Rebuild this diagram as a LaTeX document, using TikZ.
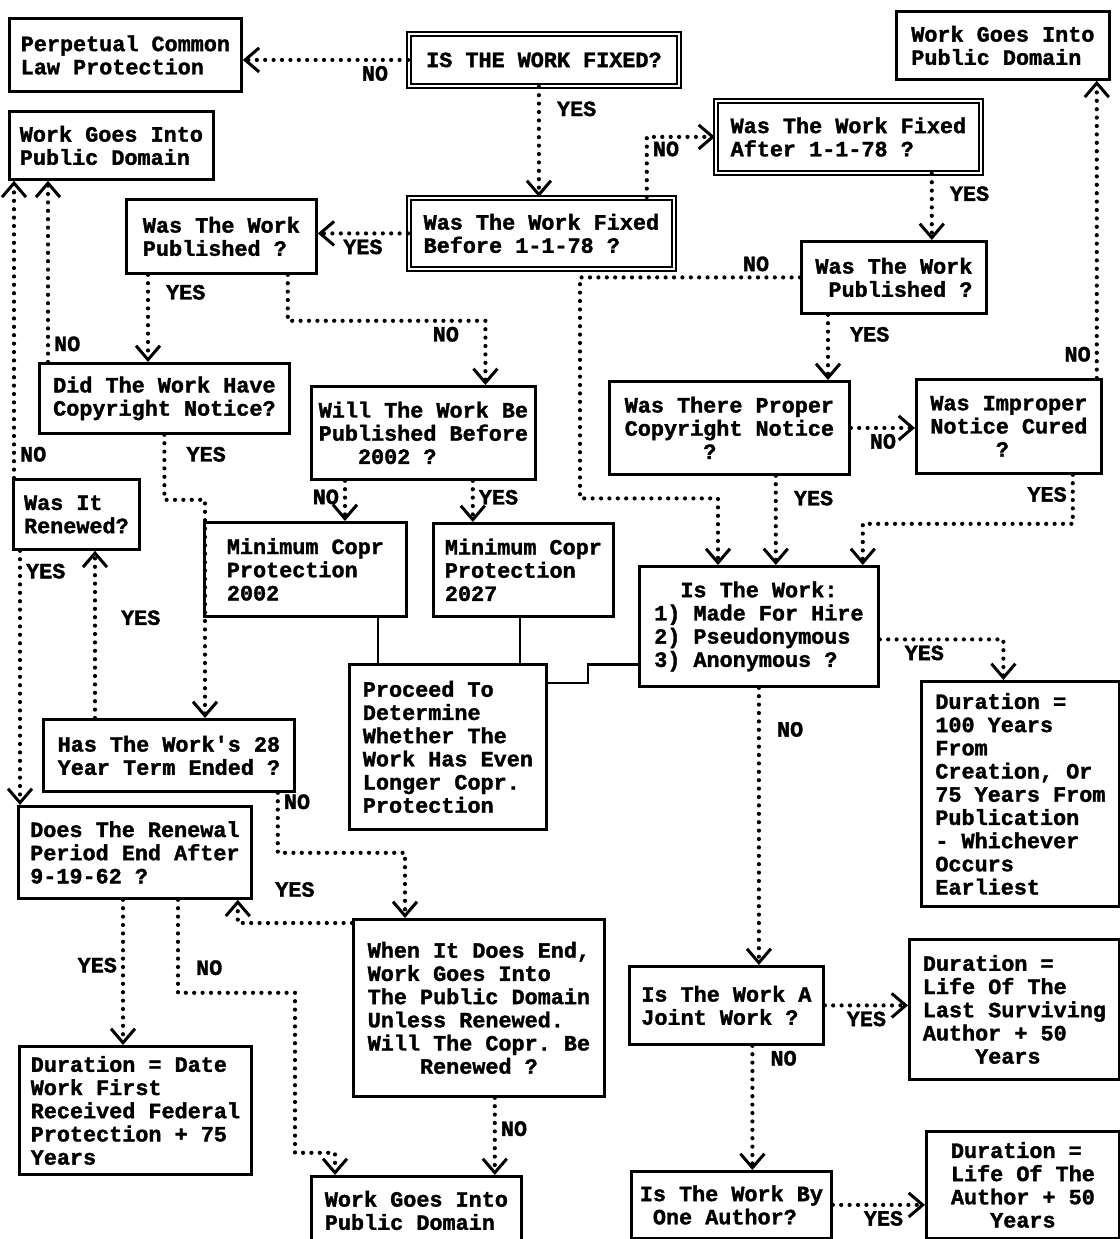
\documentclass[tikz,border=0pt]{standalone}
\usepackage{fontspec}
\setmonofont[BoldFeatures={FakeBold=1.6}]{Liberation Mono}
\usepackage{tikz}
\usetikzlibrary{arrows.meta,calc,positioning}
\newcommand\flowfont{\ttfamily\bfseries\fontsize{10.9}{11.6}\selectfont}

\begin{document}
\begin{tikzpicture}[x=0.5pt,y=-0.5pt,
  box/.style={draw,line width=1.4pt,align=left,inner sep=0pt,anchor=north west,font=\flowfont},
  dbox/.style={box,double,double distance=1.2pt,line width=0.9pt},
  flow/.style={line width=2.1pt,dash pattern=on 0pt off 4.2pt,line cap=round,
    -{Straight Barb[length=7pt,width=12pt,line width=1.5pt]}},
  link/.style={line width=1.2pt},
  lbl/.style={font=\flowfont,inner sep=2pt}]
\useasboundingbox (0,0) rectangle (1120,1239);
% boxes
\node[box,minimum width=116pt,minimum height=36.5pt] (perp) at (8,17) {Perpetual Common\\Law Protection};
\node[dbox,minimum width=135pt,minimum height=26pt] (fixed) at (408,33) {IS THE WORK FIXED?};
\node[box,minimum width=106.5pt,minimum height=34pt] (pdTR) at (895,10) {Work Goes Into\\Public Domain};
\node[box,minimum width=102pt,minimum height=34pt] (pdL) at (8,110) {Work Goes Into\\Public Domain};
\node[dbox,minimum width=132.5pt,minimum height=36pt] (after) at (715,100) {Was The Work Fixed\\After 1-1-78 ?};
\node[box,minimum width=95pt,minimum height=37pt] (pubL) at (125,198) {Was The Work\\Published ?};
\node[dbox,minimum width=132.5pt,minimum height=35.5pt] (before) at (408,197) {Was The Work Fixed\\Before 1-1-78 ?};
\node[box,minimum width=92.5pt,minimum height=36pt] (pubR) at (800,240) {Was The Work\\\phantom{0}Published ?};
\node[box,minimum width=125pt,minimum height=35pt] (notice) at (38,362) {Did The Work Have\\Copyright Notice?};
\node[box,minimum width=112pt,minimum height=46.5pt] (willpub) at (310,385) {Will The Work Be\\Published Before\\\phantom{000}2002 ?};
\node[box,minimum width=120pt,minimum height=46.5pt] (proper) at (608,380) {Was There Proper\\Copyright Notice\\\phantom{000000}?};
\node[box,minimum width=92.5pt,minimum height=47pt] (cured) at (915,378) {Was Improper\\Notice Cured\\\phantom{00000}?};
\node[box,minimum width=63pt,minimum height=35pt] (renewed) at (12,478) {Was It\\Renewed?};
\node[box,minimum width=101pt,minimum height=47pt] (min02) at (203,521) {Minimum Copr\\Protection\\2002};
\node[box,minimum width=90pt,minimum height=46.5pt] (min27) at (432,522) {Minimum Copr\\Protection\\2027};
\node[box,minimum width=119.5pt,minimum height=60pt] (isw) at (638,565) {\phantom{00}Is The Work:\\1) Made For Hire\\2) Pseudonymous\\3) Anonymous ?};
\node[box,minimum width=98.5pt,minimum height=82.5pt] (proceed) at (348,663) {Proceed To\\Determine\\Whether The\\Work Has Even\\Longer Copr.\\Protection};
\node[box,minimum width=125.5pt,minimum height=36pt] (term) at (42,718) {Has The Work's 28\\Year Term Ended ?};
\node[box,minimum width=99pt,minimum height=112.5pt] (d100) at (920,680) {Duration =\\100 Years\\From\\Creation, Or\\75 Years From\\Publication\\- Whichever\\Occurs\\Earliest};
\node[box,minimum width=116.5pt,minimum height=46pt] (renewal) at (17,805) {Does The Renewal\\Period End After\\9-19-62 ?};
\node[box,minimum width=125.5pt,minimum height=88.5pt] (whenend) at (352,918) {When It Does End,\\Work Goes Into\\The Public Domain\\Unless Renewed.\\Will The Copr. Be\\\phantom{0000}Renewed ?};
\node[box,minimum width=97pt,minimum height=39pt] (joint) at (628,965) {Is The Work A\\Joint Work ?};
\node[box,minimum width=105pt,minimum height=70pt] (last) at (908,938) {Duration =\\Life Of The\\Last Surviving\\Author + 50\\\phantom{0000}Years};
\node[box,minimum width=116pt,minimum height=64pt] (datedur) at (18,1045) {Duration = Date\\Work First\\Received Federal\\Protection + 75\\Years};
\node[box,minimum width=105pt,minimum height=34pt] (pdB) at (310,1175) {Work Goes Into\\Public Domain};
\node[box,minimum width=100pt,minimum height=33.5pt] (one) at (630,1170) {Is The Work By\\\phantom{0}One Author?};
\node[box,minimum width=96.5pt,minimum height=53.5pt] (life) at (925,1130) {Duration =\\Life Of The\\Author + 50\\\phantom{000}Years};
% top part
\draw[flow] (fixed.west) -- node[lbl,below,pos=0.2]{NO} (fixed.west -| perp.east);
\draw[flow] ([xshift=-2.5pt]fixed.south) -- node[lbl,right=6pt,pos=0.2]{YES} ([xshift=-2.5pt]fixed.south |- before.north);
\draw[flow] ([xshift=-14pt]before.north east) |- node[lbl,right,pos=0.4]{NO} (after.west);
\draw[flow] (before.west) -- node[lbl,below,pos=0.5]{YES} (before.west -| pubL.east);
\draw[flow] ([xshift=-25pt]after.south east) -- node[lbl,right=6pt,pos=0.3]{YES} ([xshift=-25pt]after.south east |- pubR.north);
\draw[flow] ([xshift=-3pt]cured.north east) -- node[lbl,left,pos=0.08]{NO} ([xshift=-3pt]cured.north east |- pdTR.south);
\draw[flow] (pubR.west) -- node[lbl,above,pos=0.2]{NO} ++(-220,0) -- ++(0,221) -| ([xshift=40pt]isw.north west);
\draw[flow] ([xshift=14pt]pubR.south west) -- node[lbl,right=8pt,pos=0.3]{YES} ([xshift=14pt]pubR.south west |- proper.north);
\draw[flow] (proper.east) -- node[lbl,below,pos=0.5]{NO} (proper.east -| cured.west);
\draw[flow] ([xshift=-37.5pt]proper.south east) -- node[lbl,right=6pt,pos=0.25]{YES} ([xshift=-37.5pt]proper.south east |- isw.north);
\draw[flow] ([xshift=-15pt]cured.south east) -- node[lbl,left,pos=0.4]{YES} ++(0,49) -| ([xshift=-8.5pt]isw.north east);
% right column
\draw[flow] ([yshift=-6.5pt]isw.east) -| node[lbl,below,pos=0.18]{YES} ([xshift=-8.5pt]d100.north);
\draw[flow] (isw.south) -- node[lbl,right=6pt,pos=0.15]{NO} (isw.south |- joint.north);
\draw[flow] (joint.east) -- node[lbl,below,pos=0.5]{YES} (joint.east -| last.west);
\draw[flow] ([xshift=13pt]joint.south) -- node[lbl,right=6pt,pos=0.1]{NO} ([xshift=13pt]joint.south |- one.north);
\draw[flow] (one.east) -- node[lbl,below,pos=0.55]{YES} (one.east -| life.west);
% solid joins to the "Is The Work" box
\draw[link] ([xshift=15pt]proceed.north west) -- ([xshift=15pt]proceed.north west |- min02.south);
\draw[link] ([xshift=-14pt]proceed.north east) -- ([xshift=-14pt]proceed.north east |- min27.south);
\draw[link] ([yshift=-10pt]proceed.north east) -- ++(40,0) |- ([yshift=-19pt]isw.west);
% left part
\draw[flow] ([xshift=11.5pt]pubL.south west) -- node[lbl,right=6pt,pos=0.2]{YES} ([xshift=11.5pt]pubL.south west |- notice.north);
\draw[flow] ([xshift=-15pt]pubL.south east) -- ++(0,46) -| node[lbl,below,pos=0.4]{NO} ([xshift=31pt]willpub.north);
\draw[flow] ([xshift=17.5pt]willpub.south west) -- node[lbl,left,pos=0.4]{NO} ([xshift=17.5pt]willpub.south west |- min02.north);
\draw[flow] ([xshift=-32pt]willpub.south east) -- node[lbl,right,pos=0.4]{YES} ([xshift=-32pt]willpub.south east |- min27.north);
\draw[flow] ([xshift=5pt]notice.north west) -- node[lbl,right,pos=0.1]{NO} ([xshift=5pt]notice.north west |- pdL.south);
\draw[flow] (notice.south) -- node[lbl,right=8pt,pos=0.3]{YES} ++(0,65) -| ([xshift=81.5pt]term.north west);
\draw[flow] ([xshift=26.5pt]term.north west) -- node[lbl,right=10pt,pos=0.6]{YES} ([xshift=26.5pt]term.north west |- renewed.south);
\draw[flow] ([xshift=1pt]renewed.north west) -- node[lbl,right,pos=0.08]{NO} ([xshift=1pt]renewed.north west |- pdL.south);
\draw[flow] ([xshift=4pt]renewed.south west) -- node[lbl,right,pos=0.08]{YES} ([xshift=4pt]renewed.south west |- renewal.north);
\draw[flow] ([xshift=-9pt]term.south east) -- node[lbl,right,pos=0.15]{NO} ++(0,60) -| ([xshift=26.5pt]whenend.north west);
\draw[flow] ([yshift=-2.5pt]whenend.north west) -| node[lbl,above=10pt,pos=0.25]{YES} ([xshift=-7.5pt]renewal.south east);
\draw[flow] ([xshift=53pt]renewal.south west) -- node[lbl,left,pos=0.45]{YES} ([xshift=53pt]renewal.south west |- datedur.north);
\draw[flow] ([xshift=80.5pt]renewal.south west) -- node[lbl,right=6pt,pos=0.73]{NO} ++(0,93) -- ++(117,0) -- ++(0,160) -| ([xshift=12.5pt]pdB.north west);
\draw[flow] ([xshift=-14pt]pdB.north east |- whenend.south) -- node[lbl,right,pos=0.4]{NO} ([xshift=-14pt]pdB.north east);
\end{tikzpicture}
\end{document}
